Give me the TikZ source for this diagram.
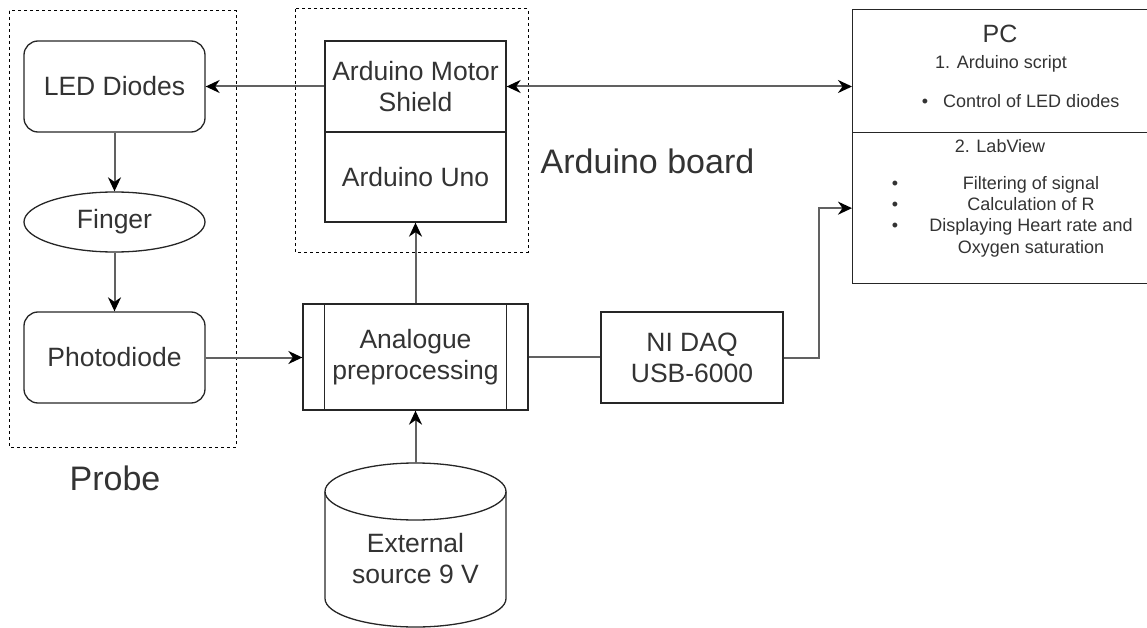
\documentclass[tikz,border=0pt]{standalone}
\usepackage{fontspec}
\setmainfont{Liberation Sans}
\usetikzlibrary{positioning,shapes,arrows.meta}

\begin{document}
\begin{tikzpicture}[x=1pt,y=1pt]
\tikzstyle{every node}+=[inner sep=0pt, text=black!80]
\tikzstyle{blk}=[draw=black!85, line width=1.3pt, minimum width=181pt, minimum height=91pt, font=\fontsize{26.5}{31}\selectfont, align=center]
\tikzstyle{rblk}=[blk, rounded corners=14pt]
\tikzstyle{conn}=[draw=black!62, line width=2pt]
\tikzstyle{arr}=[-{Stealth[length=14pt,width=13pt,inset=4.5pt,black]}]
\tikzstyle{dashbox}=[draw=black, line width=1pt, dash pattern=on 3pt off 3pt]
\tikzstyle{big}=[font=\fontsize{34}{40}\selectfont]
\tikzstyle{small}=[font=\fontsize{18}{21}\selectfont, anchor=base]
\useasboundingbox (0,0) rectangle (1147,-628);
\clip (0,0) rectangle (1147,-628);
\draw[dashbox] (9,-11) rectangle (236,-447);
\draw[dashbox] (295,-9) rectangle (528,-252);
\node[rblk] (led) at (114.5,-86.5) {LED Diodes};
\node[blk, ellipse, minimum height=60pt] (finger) at (114.5,-222) {Finger};
\node[rblk] (photo) at (114.5,-357.5) {Photodiode};
\node[big] (probe) at (115,-478) {Probe};
\node[blk] (shield) at (415.5,-86.5) {Arduino Motor\\Shield};
\node[blk, minimum height=90pt] (uno) at (415.5,-177) {Arduino Uno};
\node[big] (board) at (647.5,-161.5) {Arduino board};
\node[blk, minimum width=225pt, minimum height=106pt] (ana) at (415.5,-357) {Analogue\\preprocessing};
\draw[draw=black!85, line width=1.3pt] ([xshift=22pt]ana.north west) -- ([xshift=22pt]ana.south west)
  ([xshift=-22pt]ana.north east) -- ([xshift=-22pt]ana.south east);
\node[blk, minimum width=182pt] (daq) at (692,-357.5) {NI DAQ\\USB-6000};
\draw[draw=black!85, line width=1.3pt] (325,-491.5) -- (325,-598.5)
  arc[start angle=180, end angle=360, x radius=90.5pt, y radius=28.5pt] -- (506,-491.5);
\draw[draw=black!85, line width=1.3pt] (415.5,-491.5) ellipse [x radius=90.5pt, y radius=28.5pt];
\coordinate (srctop) at (415.5,-463);
\node[font=\fontsize{26.5}{31}\selectfont, align=center] (src) at (415.5,-559) {External\\source 9 V};
\node[blk, minimum width=320pt, minimum height=123pt, anchor=north west] (pctop) at (852,-9) {};
\node[blk, minimum width=320pt, minimum height=151pt, anchor=north west] (pcbot) at (852,-132) {};
\node[font=\fontsize{25}{30}\selectfont] (pc) at (1000,-34) {PC};
\node[small] (scr) at (1001,-69) {1. Arduino script};
\node[small] (dot0) at (925,-108) {•};
\node[small, anchor=base west] (ctl) at (943,-108) {Control of LED diodes};
\node[small] (lab) at (1000,-153) {2. LabView};
\foreach \n/\y/\t in {1/190/Filtering of signal, 2/211/Calculation of R, 3/232/Displaying Heart rate and, 4/253/Oxygen saturation}
  \node[small] (line\n) at (1031,-\y) {\t};
\foreach \n/\y in {1/190, 2/211, 3/232}
  \node[small] (dot\n) at (895,-\y) {•};
\draw[conn,arr] (shield.west) -- (led.east);
\draw[conn,arr] (led.south) -- (finger.north);
\draw[conn,arr] (finger.south) -- (photo.north);
\draw[conn,arr] (photo.east) -- (photo.east -| ana.west);
\draw[conn,arr] (ana.north) -- (uno.south);
\draw[conn,arr] (srctop) -- (ana.south);
\draw[conn] (ana.east) -- (ana.east -| daq.west);
\draw[conn,arr] (daq.east) -- ++(35,0) |- (pcbot.west);
\draw[conn,{Stealth[length=14pt,width=13pt,inset=4.5pt,black]}-{Stealth[length=14pt,width=13pt,inset=4.5pt,black]}] (shield.east) -- (shield.east -| pctop.west);
\end{tikzpicture}
\end{document}
